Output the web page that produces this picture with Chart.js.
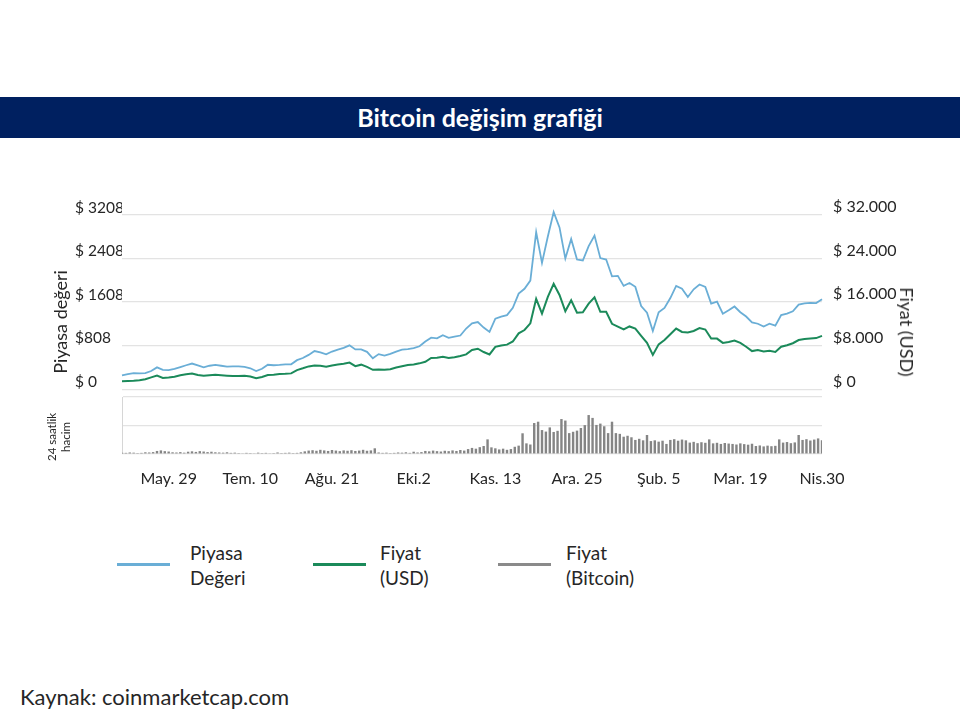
<!DOCTYPE html>
<html lang="tr">
<head>
<meta charset="UTF-8">
<title>Bitcoin değişim grafiği</title>
<script src="https://cdn.jsdelivr.net/npm/chart.js"></script>
<style>
    body {
        margin: 0;
        width: 960px;
        height: 720px;
        position: relative;
        background: #fff;
        font-family: Lato, "Open Sans", sans-serif;
        color: #262626;
        overflow: hidden;
    }
    .title-bar {
        position: absolute;
        left: 0; top: 97px;
        width: 960px; height: 41px;
        background: #002060;
        color: #fff;
        font-weight: bold;
        font-size: 25px;
        line-height: 41px;
        text-align: center;
    }
    .box { position: absolute; left: 0; width: 960px; }
    #top-box { top: 180px; height: 230px; }
    #vol-box { top: 390px; height: 100px; }
    .rot {
        position: absolute;
        white-space: nowrap;
        transform: translate(-50%, -50%) rotate(-90deg);
        text-align: center;
    }
    .rot.cw { transform: translate(-50%, -50%) rotate(90deg); }
    .legend-line { position: absolute; width: 53px; height: 3px; top: 563px; }
    .legend-text { position: absolute; top: 540px; font-size: 19px; line-height: 25px; }
    .source { position: absolute; left: 20px; top: 683px; font-size: 22px; }
</style>
</head>
<body>
<div class="title-bar">Bitcoin değişim grafiği</div>

<div class="box" id="top-box"><canvas id="lineChart"></canvas></div>
<div class="box" id="vol-box"><canvas id="volChart"></canvas></div>

<div class="rot" style="left:60px; top:322px; font-size:18px;">Piyasa değeri</div>
<div class="rot cw" style="left:907px; top:332px; font-size:18px;">Fiyat (USD)</div>
<div class="rot" style="left:59px; top:437px; font-size:11.5px; line-height:14px;">24 saatlik<br>hacim</div>

<div class="legend-line" style="left:117px; background:#6aaed6;"></div>
<div class="legend-text" style="left:190px;">Piyasa<br>Değeri</div>
<div class="legend-line" style="left:313px; background:#1b8a5a;"></div>
<div class="legend-text" style="left:380px;">Fiyat<br>(USD)</div>
<div class="legend-line" style="left:498px; background:#8a8a8a;"></div>
<div class="legend-text" style="left:566px;">Fiyat<br>(Bitcoin)</div>

<div class="source">Kaynak: coinmarketcap.com</div>

<script>
// one point every 3 days, 5 May 2017 .. 30 Apr 2018
const marketCap = [256, 279, 300, 296, 300, 338, 405, 361, 353, 377,
    411, 444, 476, 441, 405, 435, 450, 435, 418, 423,
    423, 413, 388, 338, 379, 453, 444, 450, 462, 462,
    538, 578, 635, 705, 681, 644, 696, 732, 763, 811,
    735, 737, 691, 573, 649, 621, 652, 696, 732, 740,
    758, 793, 882, 952, 938, 996, 948, 970, 991, 1120,
    1216, 1239, 1137, 1058, 1301, 1340, 1366, 1499, 1763, 1851,
    2001, 2891, 2327, 2812, 3262, 2979, 2407, 2768, 2389, 2371,
    2636, 2830, 2415, 2389, 2080, 2089, 1904, 1957, 1886, 1534,
    1410, 1075, 1419, 1499, 1680, 1904, 1851, 1701, 1842, 1930,
    1886, 1578, 1613, 1393, 1454, 1525, 1419, 1340, 1234, 1208,
    1155, 1208, 1172, 1366, 1393, 1437, 1560, 1583, 1592, 1587,
    1657];

const priceUSD = [1490, 1530, 1580, 1670, 1850, 2200, 2550, 2110, 2200, 2320,
    2580, 2760, 2900, 2640, 2500, 2580, 2670, 2580, 2510, 2460,
    2460, 2510, 2370, 2070, 2290, 2640, 2710, 2810, 2850, 2940,
    3550, 3870, 4220, 4400, 4340, 4170, 4400, 4570, 4710, 4920,
    4270, 4540, 4130, 3600, 3640, 3600, 3690, 4010, 4250, 4480,
    4570, 4780, 5060, 5770, 5800, 5980, 5750, 5890, 6120, 6420,
    7240, 7470, 6860, 6420, 7820, 8050, 8210, 8790, 10280, 10900,
    12130, 16610, 13890, 16960, 19370, 17320, 14330, 16350, 14060, 14150,
    15730, 16880, 14240, 14240, 12040, 11510, 10990, 11550, 11160, 9840,
    8530, 6330, 8260, 9050, 10110, 11160, 10550, 10460, 10720, 11250,
    10990, 9320, 9320, 8530, 8700, 8970, 8530, 7820, 7030, 7210,
    6940, 7070, 6860, 7820, 8090, 8470, 9050, 9230, 9320, 9410,
    9810];

// one bar every 2 days
const volume24h = [0.7, 0.6, 0.8, 0.7, 0.5, 0.6, 0.9, 0.8, 1.0,
    1.6, 1.9, 1.5, 1.3,
    0.9, 0.8, 1.0, 0.7,
    1.2, 1.4, 1.1, 1.5, 1.3, 1.0, 1.2, 0.9,
    0.8, 0.7, 0.9, 0.6, 0.7,
    0.5, 0.4, 0.6, 0.5, 0.4, 0.7, 0.5, 0.6, 0.4, 0.5, 0.8, 0.5, 0.6, 0.7, 0.5, 0.6, 0.9,
    1.4, 1.8, 2.0, 1.7, 2.2, 1.9, 1.6, 2.1, 1.8, 1.5, 1.9, 1.7, 2.0, 1.6, 1.8, 2.2, 1.7, 1.9,
    3.0,
    0.8, 0.6, 0.7, 0.5, 0.6, 0.8, 0.7, 0.9, 0.6, 1.2, 0.8, 1.0,
    1.6, 1.4, 1.8, 1.5, 1.3, 1.7, 1.5, 1.9, 1.6, 2.1, 1.8,
    2.6, 3.2, 2.8, 3.6, 4.2,
    7.7, 3.5, 3.0, 2.4, 2.8, 2.2, 2.6, 3.8, 4.4,
    10.9, 5.6, 5.0, 16.3, 17.0, 12.6, 11.8, 14.0, 11.6, 12.2,
    18.4, 17.6, 11.0, 11.7, 12.3, 13.7, 15.2, 20.5, 19.0,
    15.3, 16.0, 14.6, 11.0, 17.0, 11.0, 10.6,
    9.1, 9.6, 8.8, 7.4, 8.0, 7.2, 10.0,
    6.8, 7.2, 6.5, 7.0, 5.3,
    7.4, 7.8, 7.0, 7.6, 7.2,
    6.0, 6.4, 5.7, 6.2, 5.9, 7.7,
    5.6, 5.9, 5.3, 5.8, 5.5,
    5.3, 5.0, 5.6, 5.2, 4.9, 5.4,
    4.2, 4.5, 4.0, 4.4, 4.1, 4.3, 7.7,
    6.0, 6.3, 5.7, 6.1, 10.0,
    7.4, 7.8, 7.1, 7.6, 8.2, 7.3];

const leftTicks = [0, 808, 1608, 2408, 3208];
const leftTickLabels = ['$ 0', '$808', '$ 1608', '$ 2408', '$ 3208'];
const rightTicks = [0, 8000, 16000, 24000, 32000];
const rightTickLabels = ['$ 0', '$8.000', '$ 16.000', '$ 24.000', '$ 32.000'];
const xTickDays = [24, 66, 108, 150, 192, 234, 276, 318, 360];
const xTickLabels = ['May. 29', 'Tem. 10', 'Ağu. 21', 'Eki.2', 'Kas. 13', 'Ara. 25', 'Şub. 5', 'Mar. 19', 'Nis.30'];

const LINE_STEP = 3, VOL_STEP = 2, LAST_DAY = 360;
const tickFont = { family: 'Lato', size: 16 };
const tickColor = '#262626';
const gridColor = '#e3e3e3';

Chart.defaults.animation = false;
Chart.defaults.font.family = 'Lato';

function setTicks(values) {
    return (scale) => { scale.ticks = values.map(v => ({ value: v })); };
}

new Chart(document.getElementById('lineChart'), {
    type: 'line',
    data: {
        datasets: [{
            label: 'Piyasa Değeri',
            data: marketCap.map((v, i) => ({ x: i * LINE_STEP, y: v })),
            borderColor: '#6aaed6',
            borderWidth: 1.8,
            pointRadius: 0,
            yAxisID: 'y',
            clip: 8
        }, {
            label: 'Fiyat (USD)',
            data: priceUSD.map((v, i) => ({ x: i * LINE_STEP, y: v })),
            borderColor: '#1b8a5a',
            borderWidth: 2,
            pointRadius: 0,
            yAxisID: 'y2',
            clip: 8
        }]
    },
    options: {
        responsive: true,
        maintainAspectRatio: false,
        layout: { padding: { left: 75, right: 58, top: 35, bottom: 13 } },
        plugins: { legend: { display: false }, tooltip: { enabled: false } },
        scales: {
            x: { type: 'linear', min: 0, max: LAST_DAY, display: false },
            y: {
                position: 'left',
                min: 0, max: 3208,
                afterBuildTicks: setTicks(leftTicks),
                afterFit: (s) => { s.width = 47; },
                border: { display: false },
                grid: { color: gridColor, lineWidth: 1.2, drawTicks: false },
                ticks: {
                    font: { family: 'Lato', size: 15.5 }, color: tickColor,
                    crossAlign: 'far', padding: 0, labelOffset: -7,
                    callback: (v, i) => leftTickLabels[i]
                }
            },
            y2: {
                position: 'right',
                min: 0, max: 32000,
                afterBuildTicks: setTicks(rightTicks),
                afterFit: (s) => { s.width = 80; },
                border: { display: false },
                grid: { display: false, drawTicks: false },
                ticks: {
                    font: tickFont, color: tickColor, padding: 11,
                    labelOffset: -8,
                    callback: (v, i) => rightTickLabels[i]
                }
            }
        }
    }
});

new Chart(document.getElementById('volChart'), {
    type: 'bar',
    data: {
        datasets: [{
            label: 'Fiyat (Bitcoin)',
            data: volume24h.map((v, i) => ({ x: i * VOL_STEP, y: v })),
            backgroundColor: '#858585',
            categoryPercentage: 1,
            barPercentage: 0.62
        }]
    },
    options: {
        responsive: true,
        maintainAspectRatio: false,
        layout: { padding: { left: 0, right: 138, top: 7, bottom: 0 } },
        plugins: { legend: { display: false }, tooltip: { enabled: false } },
        scales: {
            x: {
                type: 'linear', min: 0, max: LAST_DAY, offset: false,
                afterBuildTicks: setTicks(xTickDays),
                afterFit: (s) => { s.height = 36; },
                border: { display: false },
                grid: { display: false },
                ticks: {
                    font: tickFont, color: tickColor, padding: 7, maxRotation: 0,
                    autoSkip: false,
                    callback: (v, i) => xTickLabels[i]
                }
            },
            y: {
                min: 0, max: 30,
                ticks: { display: false, stepSize: 15 },
                afterFit: (s) => { s.width = 122; },
                border: { display: true, color: '#d6d6d6' },
                grid: { color: gridColor, lineWidth: 1.2, drawTicks: false }
            }
        }
    }
});
</script>
</body>
</html>
